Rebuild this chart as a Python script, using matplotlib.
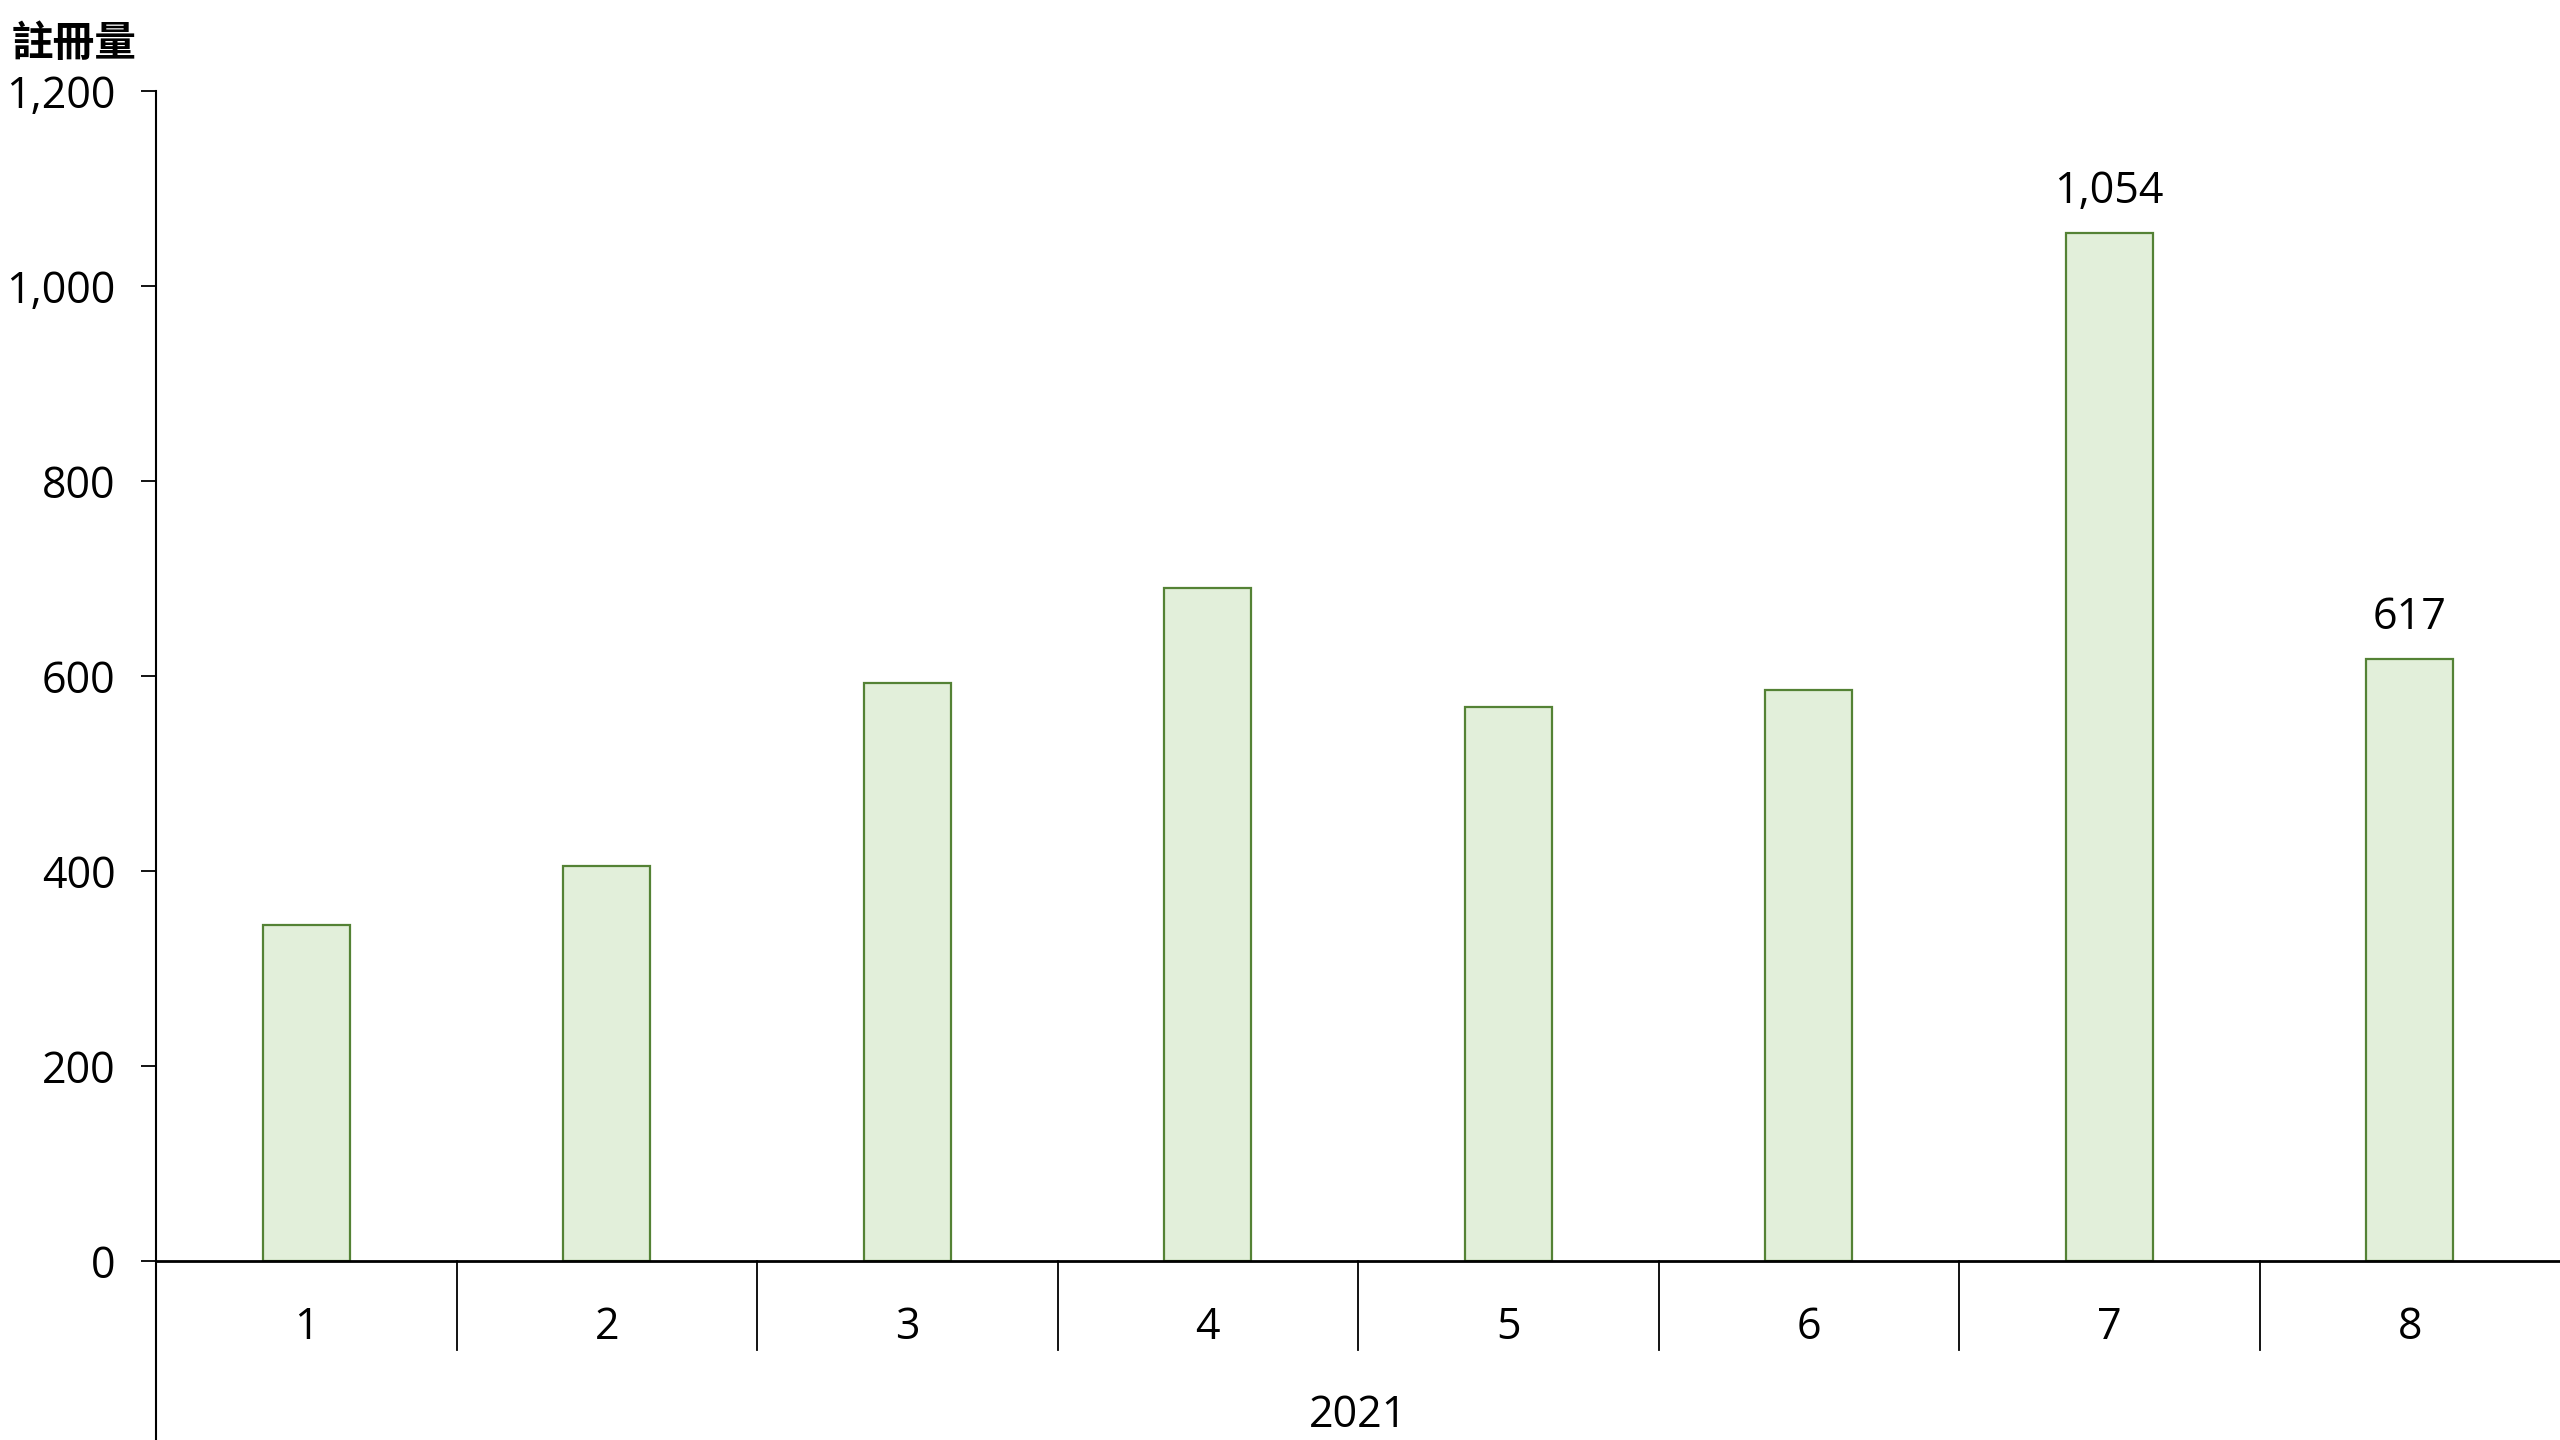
import matplotlib
matplotlib.use("Agg")
import matplotlib.pyplot as plt
import matplotlib.transforms as mtransforms
from matplotlib.ticker import FuncFormatter

plt.rcParams['font.family'] = ['Open Sans', 'Noto Sans CJK TC', 'DejaVu Sans']

months = ["1", "2", "3", "4", "5", "6", "7", "8"]
values = [345, 405, 593, 690, 568, 586, 1054, 617]
year_label = "2021"
y_ticks = [0, 200, 400, 600, 800, 1000, 1200]
labelled = {6: "1,054", 7: "617"}
title = "註冊量"

FS = 31

W, H = 2560, 1440
fig = plt.figure(figsize=(W / 100, H / 100), dpi=100)
left_px, right_px, top_px, bottom_px = 156, 2560, 91, 1261
ax = fig.add_axes([left_px / W, 1 - bottom_px / H, (right_px - left_px) / W, (bottom_px - top_px) / H])

x = list(range(len(months)))
ax.bar(x, values, width=0.29, color="#E2EFDA", edgecolor="#548235", linewidth=1.6, zorder=2)

ax.set_xlim(-0.5, len(months) - 0.5)
ax.set_ylim(0, 1200)
ax.set_yticks(y_ticks)
ax.yaxis.set_major_formatter(FuncFormatter(lambda v, p: f"{int(v):,}"))
ax.tick_params(axis='y', length=11, width=1.3, labelsize=FS, pad=18, color='black')
ax.set_xticks([])

for s in ['top', 'right', 'left']:
    ax.spines[s].set_visible(False)
ax.spines['bottom'].set_linewidth(2)
ax.spines['bottom'].set_zorder(3)

ax_h = bottom_px - top_px
ext = (H - bottom_px) / ax_h
ax.plot([0, 0], [1, -ext], transform=ax.transAxes, color='black', lw=1.5, clip_on=False)

trans = mtransforms.blended_transform_factory(ax.transData, ax.transAxes)
div_len = 89 / ax_h
for i in range(1, len(months)):
    ax.plot([i - 0.5, i - 0.5], [0, -div_len], transform=trans, color='black', lw=1.3, clip_on=False)

for i, m in enumerate(months):
    ax.text(i, -67 / ax_h, m, transform=trans, ha='center', va='center', fontsize=FS)

ax.text(0.5, -155 / ax_h, year_label, transform=ax.transAxes, ha='center', va='center', fontsize=FS)

for i, txt in labelled.items():
    ax.annotate(txt, (i, values[i]), xytext=(0, 14), textcoords='offset points',
                ha='center', va='bottom', fontsize=FS)

fig.text(12 / W, 1 - 44 / H, title, ha='left', va='center', fontsize=30, fontweight='bold',
         family=['Noto Sans CJK TC', 'DejaVu Sans'])

fig.savefig("out.png", dpi=100)
